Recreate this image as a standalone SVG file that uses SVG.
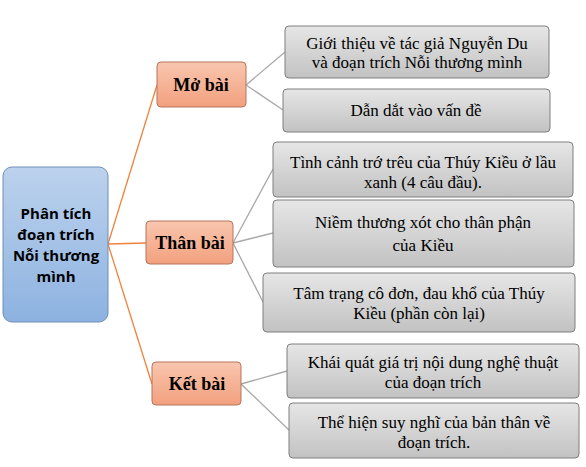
<svg xmlns="http://www.w3.org/2000/svg" width="586" height="467" viewBox="0 0 586 467">
<defs>
<linearGradient id="gBlue" x1="0" y1="0" x2="0" y2="1"><stop offset="0" stop-color="#bcd2ed"/><stop offset="1" stop-color="#8db2e0"/></linearGradient>
<linearGradient id="gOrange" x1="0" y1="0" x2="0" y2="1"><stop offset="0" stop-color="#f9c6af"/><stop offset="1" stop-color="#f2a07e"/></linearGradient>
<linearGradient id="gGray" x1="0" y1="0" x2="0" y2="1"><stop offset="0" stop-color="#e6e6e6"/><stop offset="1" stop-color="#c2c2c2"/></linearGradient>
</defs>
<g id="connectors" fill="none" stroke-width="1.3">
<g stroke="#f0823c">
<line x1="108" y1="244" x2="157" y2="85"/>
<line x1="108" y1="244" x2="146" y2="243"/>
<line x1="108" y1="244" x2="152" y2="384"/>
</g>
<g stroke="#a8a8a8">
<line x1="246" y1="85" x2="285" y2="52"/>
<line x1="246" y1="85" x2="283" y2="110"/>
<line x1="233" y1="243" x2="273" y2="169"/>
<line x1="233" y1="243" x2="273" y2="233"/>
<line x1="233" y1="243" x2="263" y2="302"/>
<line x1="241" y1="384" x2="287" y2="371"/>
<line x1="241" y1="384" x2="289" y2="430"/>
</g>
</g>
<g id="root">
<rect x="3" y="167" width="105" height="155" rx="9" fill="url(#gBlue)" stroke="#6f8fb8"/>
<text x="56" y="219" font-family="Open Sans" font-weight="bold" font-size="15" text-anchor="middle">Phân tích</text>
<text x="56" y="240" font-family="Open Sans" font-weight="bold" font-size="15" text-anchor="middle">đoạn trích</text>
<text x="56" y="261" font-family="Open Sans" font-weight="bold" font-size="15" text-anchor="middle">Nỗi thương</text>
<text x="56" y="282" font-family="Open Sans" font-weight="bold" font-size="15" text-anchor="middle">mình</text>
</g>
<g id="mo-bai">
<rect x="157" y="62" width="89" height="45" rx="4" fill="url(#gOrange)" stroke="#b7745c"/>
<text x="201" y="91" font-family="Liberation Serif" font-weight="bold" font-size="18" text-anchor="middle">Mở bài</text>
</g>
<g id="than-bai">
<rect x="146" y="221" width="87" height="43" rx="4" fill="url(#gOrange)" stroke="#b7745c"/>
<text x="190" y="249" font-family="Liberation Serif" font-weight="bold" font-size="18" text-anchor="middle">Thân bài</text>
</g>
<g id="ket-bai">
<rect x="152" y="362" width="89" height="43" rx="4" fill="url(#gOrange)" stroke="#b7745c"/>
<text x="197" y="390" font-family="Liberation Serif" font-weight="bold" font-size="18" text-anchor="middle">Kết bài</text>
</g>
<g id="n1">
<rect x="285" y="26" width="264" height="52" rx="4" fill="url(#gGray)" stroke="#7f7f7f"/>
<text x="417" y="49" font-family="Liberation Serif" font-size="17" text-anchor="middle">Giới thiệu về tác giả Nguyễn Du</text>
<text x="417" y="68" font-family="Liberation Serif" font-size="17" text-anchor="middle">và đoạn trích Nỗi thương mình</text>
</g>
<g id="n2">
<rect x="283" y="89" width="267" height="43" rx="4" fill="url(#gGray)" stroke="#7f7f7f"/>
<text x="416" y="116" font-family="Liberation Serif" font-size="17" text-anchor="middle">Dẫn dắt vào vấn đề</text>
</g>
<g id="n3">
<rect x="273" y="142" width="300" height="55" rx="4" fill="url(#gGray)" stroke="#7f7f7f"/>
<text x="423" y="168" font-family="Liberation Serif" font-size="17" text-anchor="middle">Tình cảnh trớ trêu của Thúy Kiều ở lầu</text>
<text x="423" y="188" font-family="Liberation Serif" font-size="17" text-anchor="middle">xanh (4 câu đầu).</text>
</g>
<g id="n4">
<rect x="273" y="200" width="301" height="67" rx="4" fill="url(#gGray)" stroke="#7f7f7f"/>
<text x="423" y="228" font-family="Liberation Serif" font-size="17" text-anchor="middle">Niềm thương xót cho thân phận</text>
<text x="423" y="251" font-family="Liberation Serif" font-size="17" text-anchor="middle">của Kiều</text>
</g>
<g id="n5">
<rect x="263" y="273" width="312" height="59" rx="4" fill="url(#gGray)" stroke="#7f7f7f"/>
<text x="419" y="299" font-family="Liberation Serif" font-size="17" text-anchor="middle">Tâm trạng cô đơn, đau khổ của Thúy</text>
<text x="419" y="319" font-family="Liberation Serif" font-size="17" text-anchor="middle">Kiều (phần còn lại)</text>
</g>
<g id="n6">
<rect x="287" y="344" width="292" height="54" rx="4" fill="url(#gGray)" stroke="#7f7f7f"/>
<text x="433" y="368" font-family="Liberation Serif" font-size="17" text-anchor="middle">Khái quát giá trị nội dung nghệ thuật</text>
<text x="433" y="388" font-family="Liberation Serif" font-size="17" text-anchor="middle">của đoạn trích</text>
</g>
<g id="n7">
<rect x="289" y="403" width="290" height="55" rx="4" fill="url(#gGray)" stroke="#7f7f7f"/>
<text x="434" y="428" font-family="Liberation Serif" font-size="17" text-anchor="middle">Thể hiện suy nghĩ của bản thân về</text>
<text x="434" y="448" font-family="Liberation Serif" font-size="17" text-anchor="middle">đoạn trích.</text>
</g>
</svg>
